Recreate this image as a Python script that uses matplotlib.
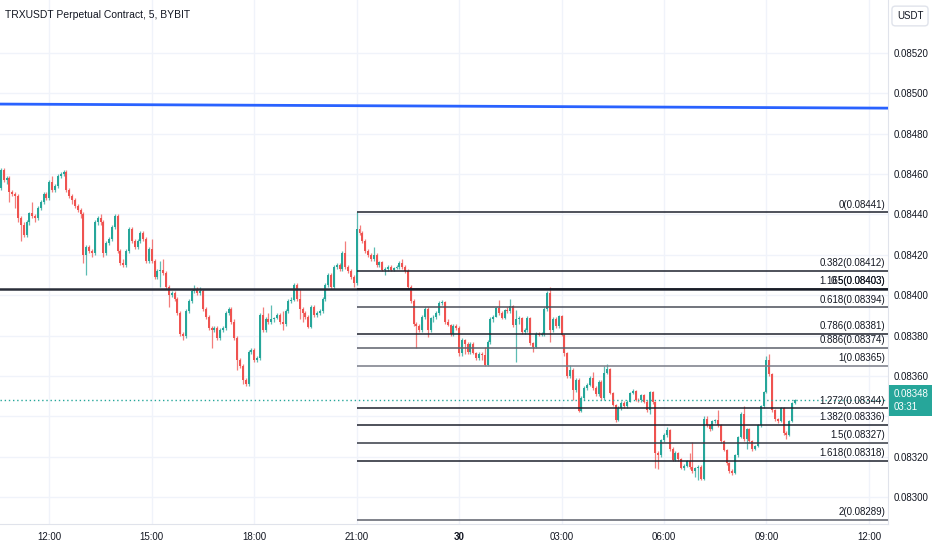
import matplotlib
matplotlib.use("Agg")
import matplotlib.pyplot as plt
import matplotlib.transforms as mtransforms
import numpy as np
import pandas as pd

# TRXUSDT perpetual, 5 minute candles, prices in ticks of 0.00001 USDT
first_bar_time = "2024-01-29 10:35"
first_open = 8453
closes = [
    8462, 8457, 8458, 8451, 8450, 8449, 8438, 8435, 8430, 8436,
    8440.5, 8439, 8438, 8443, 8446, 8450, 8448, 8456, 8452, 8454,
    8459, 8460, 8461, 8452, 8449, 8447, 8444, 8442, 8440, 8420,
    8424, 8422, 8421, 8436, 8438, 8436, 8421, 8426, 8428, 8434,
    8439, 8422, 8416, 8415, 8422, 8433, 8427, 8424, 8427, 8431,
    8428, 8417, 8423, 8417, 8409, 8412, 8412.5, 8411, 8404, 8400,
    8401, 8398, 8391, 8381, 8380, 8392, 8397, 8402, 8403, 8401,
    8402, 8393, 8389, 8384, 8383, 8384, 8379, 8383, 8384, 8391,
    8393, 8387, 8379, 8368, 8365, 8358, 8356, 8372, 8373, 8368,
    8369, 8390, 8383, 8388, 8387, 8388, 8388.5, 8390, 8387, 8386,
    8392, 8397, 8397.5, 8405, 8398, 8393, 8391, 8389, 8384.5, 8394,
    8390, 8391, 8392, 8398, 8405, 8410, 8404, 8414, 8415, 8413,
    8421, 8414, 8412, 8409, 8406, 8433, 8431, 8427, 8422, 8420,
    8418, 8420, 8415, 8416.5, 8412.5, 8413, 8414, 8412.5, 8413.5, 8414,
    8416, 8414, 8412, 8404, 8397, 8386, 8385, 8383, 8389, 8393,
    8383, 8388.6, 8389, 8391, 8396, 8396.5, 8387, 8385.5, 8381, 8385,
    8384, 8371.3, 8378, 8376, 8372, 8376, 8371.5, 8368.8, 8371, 8370.5,
    8365.5, 8377, 8388, 8389.4, 8393.5, 8391, 8388.6, 8392.7, 8392, 8394.5,
    8385.3, 8388, 8388.6, 8382, 8383, 8388.6, 8376.3, 8374.5, 8381, 8380.5,
    8381, 8393, 8401, 8383, 8388, 8385, 8389.5, 8380.4, 8371.3, 8359.8,
    8363, 8353, 8358, 8342.5, 8349, 8354, 8355.6, 8359, 8354, 8351,
    8357, 8349, 8361.4, 8363.5, 8351.5, 8345.7, 8338.3, 8344, 8346.6, 8345,
    8347.4, 8351.5, 8352.5, 8348.2, 8348, 8350.5, 8347.4, 8343.3, 8352, 8347,
    8322, 8321, 8328.4, 8331, 8333.4, 8324, 8318.5, 8322, 8319, 8314.5,
    8315.5, 8318, 8315, 8313, 8314.5, 8315, 8309, 8339, 8336, 8334,
    8338, 8338.5, 8336, 8328, 8323.5, 8317, 8313, 8312, 8321, 8330,
    8341, 8329, 8334, 8328, 8324, 8325.5, 8336, 8345, 8352, 8368,
    8361, 8343, 8339, 8338, 8344, 8332, 8331, 8338, 8346.6, 8348,
]
highs = [
    8463, 8463, 8459, 8459, 8452, 8451, 8450, 8439, 8436, 8437,
    8441, 8446, 8440, 8444, 8447, 8451, 8451, 8457, 8459, 8455,
    8460, 8461, 8462, 8462, 8453, 8450, 8448, 8445, 8443, 8441,
    8425, 8425, 8423, 8437, 8439, 8440, 8437, 8427, 8429, 8435,
    8440, 8440, 8423, 8418, 8423, 8434, 8434, 8428, 8428, 8432,
    8432, 8429, 8424, 8428, 8418, 8413, 8417, 8418, 8412, 8405,
    8402, 8402, 8399, 8392, 8382, 8393, 8398, 8403, 8405, 8404,
    8404, 8403, 8394, 8390, 8385, 8385, 8385, 8384, 8385, 8392,
    8394, 8394, 8388, 8380, 8369, 8366, 8359, 8373, 8374, 8374,
    8370, 8391, 8394, 8389, 8391, 8395, 8389, 8391, 8391, 8392,
    8393, 8398, 8399, 8406, 8406, 8403, 8394, 8392, 8390, 8395,
    8395, 8392, 8393, 8399, 8406, 8411, 8411, 8415, 8416, 8416,
    8422, 8427, 8415, 8413, 8410, 8441, 8435, 8432, 8428, 8423,
    8421, 8424, 8421, 8417, 8417, 8414, 8415, 8415, 8414, 8415,
    8417, 8418, 8415, 8413, 8405, 8398, 8387, 8386, 8390, 8394,
    8394, 8389, 8390, 8392, 8397, 8397.5, 8397, 8388, 8386, 8386,
    8386, 8385, 8379, 8378.5, 8377, 8377, 8377, 8372, 8372, 8372,
    8374.5, 8378, 8389, 8390, 8394, 8397.6, 8392, 8393, 8394, 8398,
    8395, 8392.7, 8389.5, 8389, 8384, 8389.5, 8389, 8377, 8382, 8382,
    8382, 8394, 8402, 8404.3, 8389, 8389, 8390, 8390, 8381, 8372,
    8365.6, 8364, 8359, 8359, 8350, 8355, 8356.5, 8360, 8362, 8355,
    8358, 8358, 8365, 8366, 8364, 8352, 8346, 8345, 8347.5, 8347.5,
    8348, 8352, 8353.5, 8353, 8349, 8351, 8351, 8348, 8352.5, 8352.5,
    8347.5, 8323, 8329, 8332, 8335, 8334, 8325, 8323, 8322.5, 8319.5,
    8316.5, 8318.5, 8322, 8327.6, 8315, 8316, 8316, 8340, 8340, 8336.5,
    8338.5, 8339, 8343, 8336.5, 8328.5, 8324, 8317.5, 8314, 8321.5, 8330.5,
    8342, 8345, 8334.5, 8334.5, 8328.5, 8326, 8336.5, 8345.5, 8352.5, 8370,
    8371, 8361.5, 8343.5, 8339.5, 8344.5, 8344.5, 8333, 8338.5, 8347, 8348.5,
]
lows = [
    8452, 8456, 8455, 8446, 8449, 8443, 8436, 8427, 8429, 8429,
    8435, 8438, 8436, 8437, 8442, 8445, 8447, 8447, 8451, 8451,
    8453, 8458, 8459, 8451, 8448, 8445, 8443, 8441, 8438, 8416,
    8410, 8421, 8419, 8420, 8435, 8435, 8419, 8420, 8425, 8427,
    8433, 8421, 8415, 8414, 8414, 8421, 8426, 8423, 8423, 8426,
    8427, 8416, 8416, 8416, 8408, 8408, 8404, 8410, 8403, 8394,
    8399, 8397, 8390, 8380, 8378, 8379, 8391, 8396, 8401, 8400,
    8400, 8392, 8388, 8383, 8374, 8382, 8378, 8378, 8382, 8383,
    8390, 8386, 8378, 8363, 8364, 8356, 8355, 8355, 8371, 8367,
    8367, 8368, 8382, 8382, 8386, 8386, 8387, 8388, 8386, 8383,
    8385, 8391, 8396, 8397, 8397, 8388, 8387, 8388, 8384, 8384,
    8389, 8389, 8390, 8391, 8397, 8404, 8403, 8403, 8413, 8412,
    8412, 8413, 8411, 8408, 8404, 8405, 8430, 8426, 8421, 8419,
    8417, 8417, 8414, 8414, 8412, 8410, 8412, 8412, 8412, 8413,
    8413, 8413, 8411, 8403, 8396, 8385, 8374, 8382, 8382, 8388,
    8379.5, 8382, 8387, 8388, 8390, 8395, 8386, 8385, 8380, 8380,
    8383, 8370, 8370, 8371, 8371, 8371, 8371, 8368, 8368, 8368,
    8365, 8365, 8376, 8387, 8389, 8390, 8388, 8388, 8391, 8391,
    8384.5, 8367, 8386, 8381, 8381, 8382, 8375.5, 8372, 8374, 8380,
    8380, 8380, 8392, 8377, 8382, 8384, 8384, 8380, 8370, 8359,
    8359, 8348, 8352, 8342, 8342, 8348, 8353, 8355, 8353, 8350,
    8350, 8348, 8348, 8361, 8351, 8345, 8337.5, 8338, 8343, 8344,
    8344, 8347, 8351, 8347.5, 8347, 8347, 8346.5, 8342, 8341, 8346,
    8314.5, 8314, 8320, 8327.5, 8330, 8323, 8318, 8318, 8318, 8314,
    8313.5, 8315, 8314, 8312, 8310, 8308.6, 8308.5, 8308.5, 8335, 8333,
    8333.5, 8337, 8335, 8327, 8323, 8316, 8312, 8311, 8311.5, 8320,
    8329.5, 8328, 8324, 8327.5, 8323, 8323.5, 8325, 8335, 8344, 8351.5,
    8360, 8342, 8338, 8337, 8337.5, 8331, 8329, 8330.5, 8337.5, 8346,
]

# fibonacci retracement drawn from the 21:00 swing high
fib_anchor_time = "2024-01-29 21:00"
fib_ratios = ["0", "0.382", "0.5", "0.618", "0.786", "0.886", "1",
              "1.272", "1.382", "1.5", "1.618", "2"]
fib_prices = [8441, 8412, 8403, 8394, 8381, 8374, 8365, 8344, 8336, 8327, 8318, 8289]
fib_colors = ["#1e222d", "#1e222d", "#131722", "#4a4e59", "#1e222d", "#5d606b",
              "#787b86", "#1e222d", "#1e222d", "#363a45", "#1e222d", "#5d606b"]
extra_level_label = "1.165"

# other drawings
hline_price = 8403
trend_times = ["2024-01-29 10:35", "2024-01-30 09:50"]
trend_prices = [8494.6, 8492.8]

tick_size = 1e-5
countdown = "03:31"

UP = "#26a69a"
DOWN = "#ef5350"
TEXT = "#131722"
GRID = "#f0f3fa"
FS = 7

plt.rcParams["font.family"] = ["Liberation Sans", "DejaVu Sans"]

o = np.array([first_open] + closes[:-1]) * tick_size
c = np.array(closes) * tick_size
h = np.array(highs) * tick_size
l = np.array(lows) * tick_size
x = np.arange(len(c))
start = pd.Timestamp(first_bar_time)
bar = pd.Timedelta("5min")

def bar_of(t):
    return (pd.Timestamp(t) - start) / bar

fig = plt.figure(figsize=(9.32, 5.5), dpi=100)
ax = fig.add_axes([0, 26 / 550, 888 / 932, 524 / 550])
ax.set_xlim(-0.32, 311.7)
ax.set_ylim(0.082868, 0.085461)

# grid and axes
price_ticks = np.arange(0.0830, 0.08521, 0.0002)
tick_times = pd.date_range("2024-01-29 12:00", "2024-01-30 12:00", freq="3h")
tick_pos = [bar_of(t) for t in tick_times]
tick_labels = ["30" if t.hour == 0 else t.strftime("%H:%M") for t in tick_times]
ax.set_yticks(price_ticks)
ax.set_yticklabels(["" if abs(p - 0.0834) < 1e-7 else f"{p:.5f}" for p in price_ticks])
ax.set_xticks(tick_pos)
ax.set_xticklabels(tick_labels)
for lab in ax.get_xticklabels():
    if lab.get_text() == "30":
        lab.set_fontweight("bold")
ax.grid(True, color=GRID, linewidth=1, zorder=0)
ax.set_axisbelow(True)
ax.yaxis.tick_right()
ax.tick_params(axis="y", length=0, pad=4, labelsize=FS, labelcolor=TEXT)
ax.tick_params(axis="x", length=0, pad=6, labelsize=FS, labelcolor=TEXT)
for side in ["top", "left"]:
    ax.spines[side].set_visible(False)
for side in ["bottom", "right"]:
    ax.spines[side].set_color("#e0e3eb")

# candles
up = c >= o
colors = np.where(up, UP, DOWN)
ax.vlines(x, l, h, colors=colors, linewidth=0.9, alpha=0.75, zorder=2)
body = np.maximum(np.abs(c - o), 0.35 * tick_size)
ax.bar(x, body, bottom=np.minimum(o, c), width=0.7, color=colors, linewidth=0, zorder=3)

# drawings
ax.axhline(hline_price * tick_size, color="#2a2e39", linewidth=1.8, zorder=4)
ax.axline((bar_of(trend_times[0]), trend_prices[0] * tick_size),
          (bar_of(trend_times[1]), trend_prices[1] * tick_size),
          color="#2962ff", linewidth=2, zorder=4)
fib_x0 = bar_of(fib_anchor_time)
for ratio, price, col in zip(fib_ratios, fib_prices, fib_colors):
    ax.hlines(price * tick_size, fib_x0, ax.get_xlim()[1], colors=col, linewidth=1.1, zorder=4)
    ax.annotate(f"{ratio}({price * tick_size:.5f})", xy=(1, price * tick_size),
                xycoords=("axes fraction", "data"), xytext=(-2, 2), textcoords="offset points",
                ha="right", va="bottom", fontsize=FS, color=TEXT, zorder=5)
ax.annotate(f"{extra_level_label}({hline_price * tick_size:.5f})", xy=(1, hline_price * tick_size),
            xycoords=("axes fraction", "data"), xytext=(-2, 2), textcoords="offset points",
            ha="right", va="bottom", fontsize=FS, color=TEXT, zorder=5)

# last price
last = c[-1]
ax.axhline(last, color=UP, linewidth=1, linestyle=(0, (1, 2)), zorder=4)
trans = mtransforms.blended_transform_factory(ax.transAxes, ax.transData)
ax.text(1.006, last, f"{last:.5f}\n{countdown}", transform=trans, ha="left", va="center",
        fontsize=FS, color="white", linespacing=1.3, clip_on=False, zorder=6,
        bbox=dict(boxstyle="square,pad=0.45", facecolor=UP, edgecolor="none"))

# header texts
fig.text(5 / 932, 1 - 15 / 550, "TRXUSDT Perpetual Contract, 5, BYBIT",
         fontsize=7.5, color=TEXT, va="center", ha="left")
fig.text(910 / 932, 1 - 16 / 550, "USDT", fontsize=FS, color=TEXT,
         va="center", ha="center",
         bbox=dict(boxstyle="round,pad=0.5,rounding_size=0.35", facecolor="white",
                   edgecolor="#e0e3eb"))

fig.savefig("out.png", dpi=100)
